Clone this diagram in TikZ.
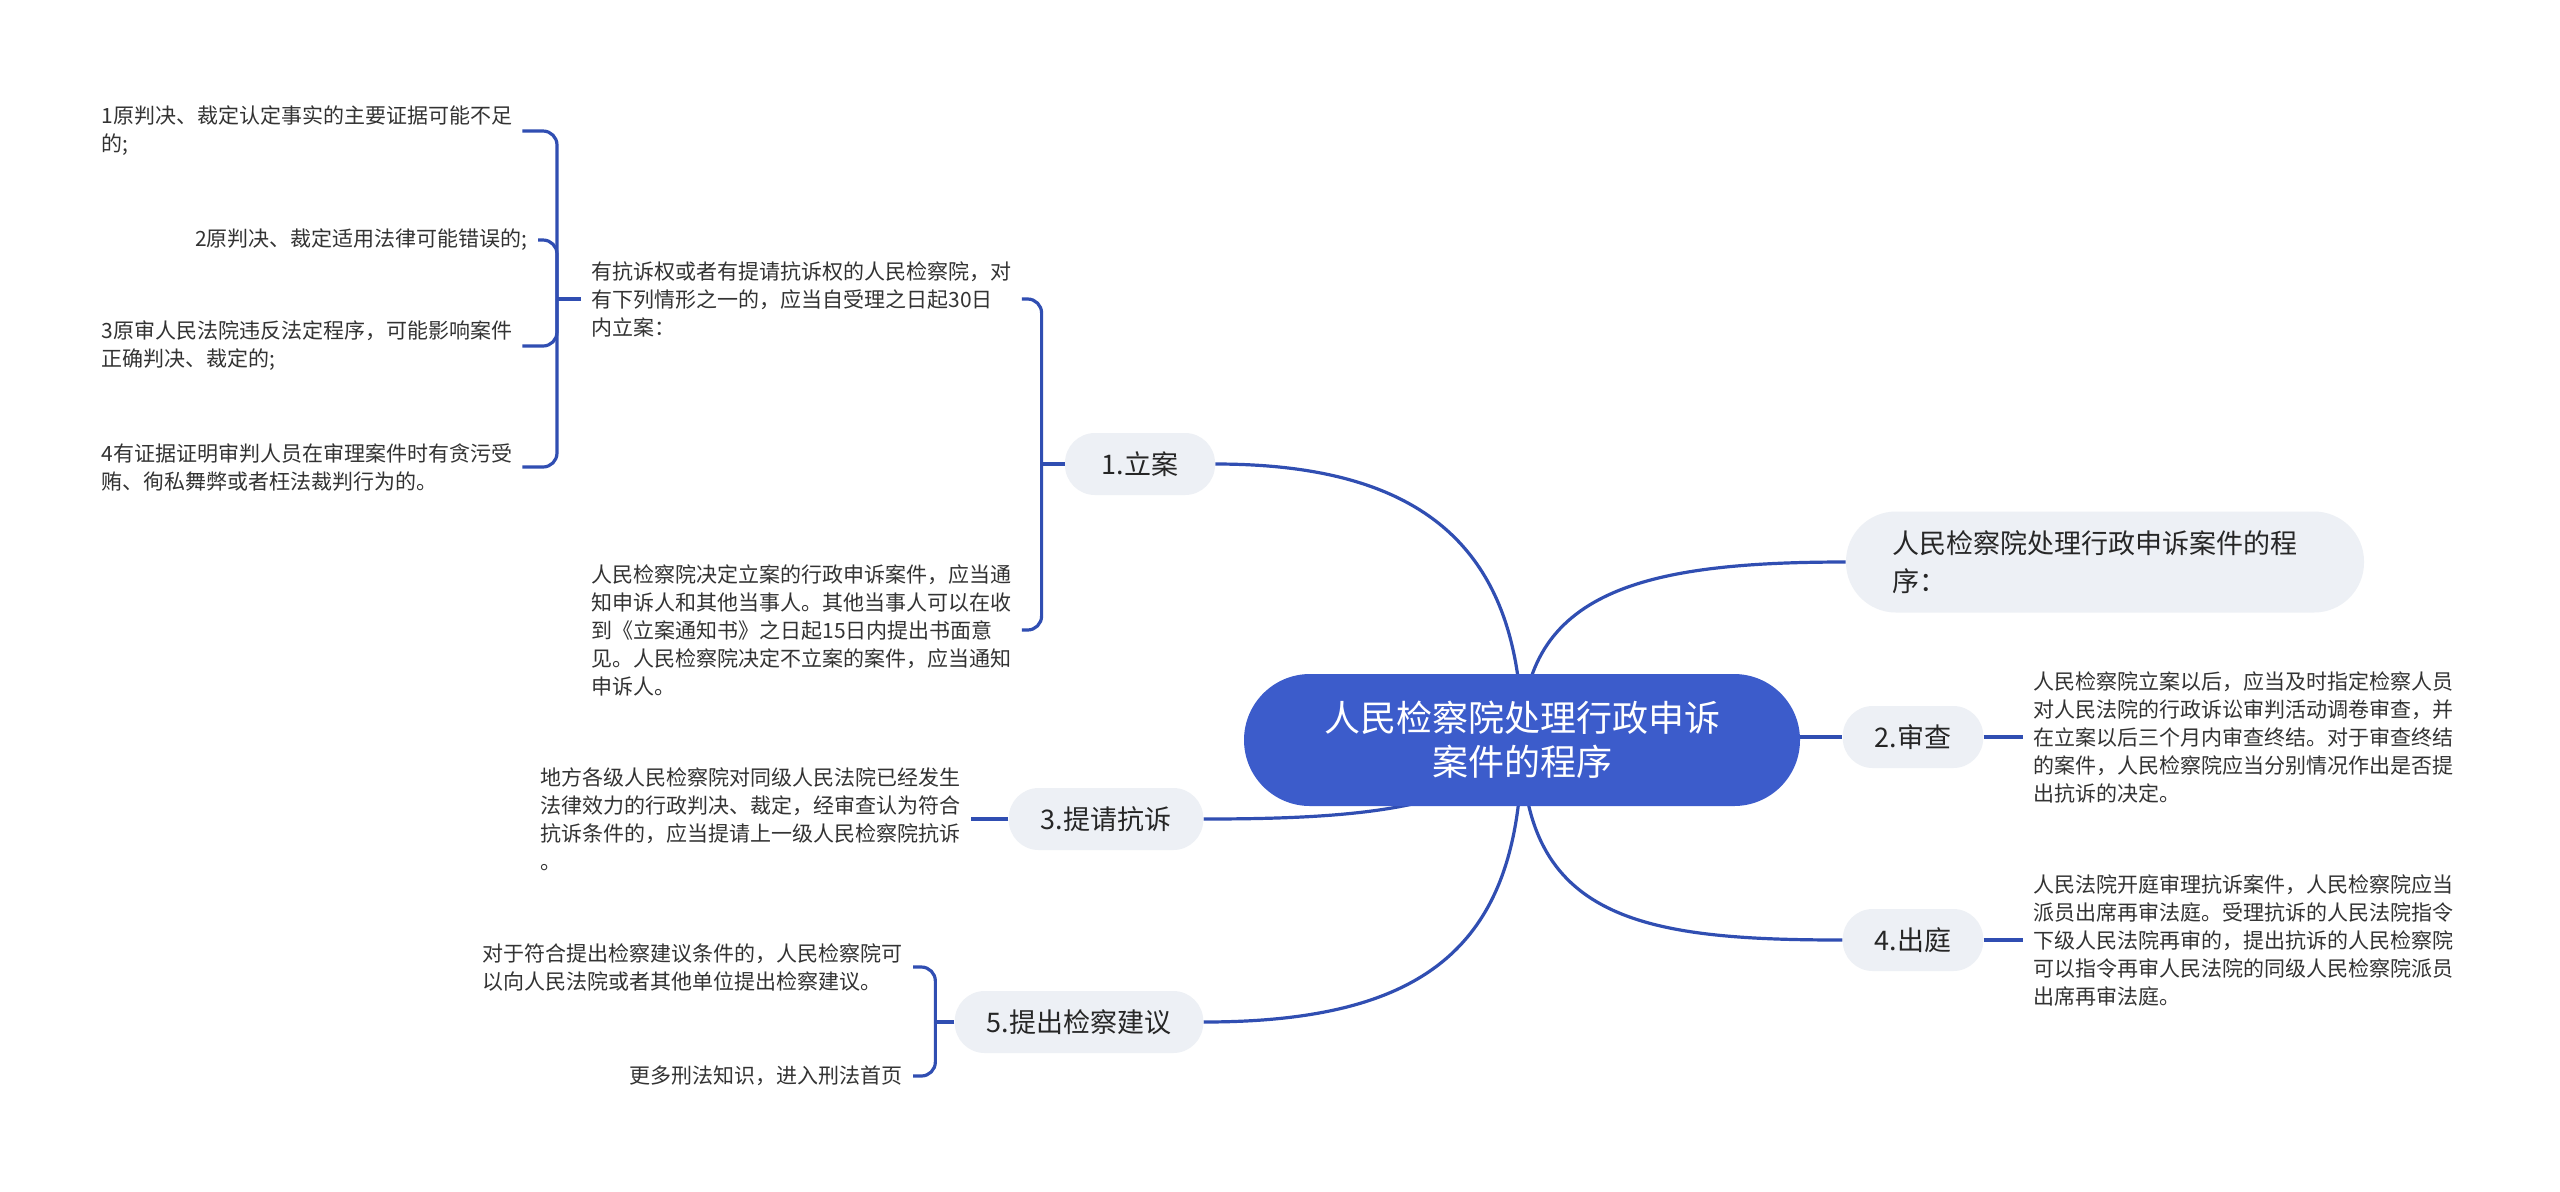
\documentclass[tikz,border=0pt]{standalone}
\usepackage{fontspec}
\setmainfont{Noto Sans CJK SC}
\usetikzlibrary{backgrounds}
\definecolor{azulraiz}{RGB}{60,92,203}
\definecolor{azullinea}{RGB}{48,78,178}
\definecolor{grisrama}{RGB}{237,240,245}
\definecolor{textohoja}{RGB}{51,51,51}
\tikzset{
  raiz/.style={fill=azulraiz, text=white, rounded corners=33pt, minimum width=278pt, minimum height=66pt, align=center, font=\fontsize{18}{22}\selectfont},
  rama/.style={fill=grisrama, text=black!85, rounded corners=15pt, minimum height=31pt, inner xsep=16pt, font=\fontsize{13.5}{19}\selectfont},
  hoja/.style={text=textohoja, align=left, inner xsep=5pt, inner ysep=2pt, font=\fontsize{10.5}{14}\selectfont},
  enlace/.style={draw=azullinea, line width=1.6pt},
  llave/.style={enlace, rounded corners=7pt}
}
\begin{document}
\begin{tikzpicture}[x=0.5pt,y=-0.5pt] %Mapa mental del procedimiento
            \useasboundingbox (0,0) rectangle (2560,1191);

            \node[raiz] (raiz) at (1522,740) {人民检察院处理行政申诉\\案件的程序};

            \node[rama, minimum width=75pt] (b1) at (1140,464) {1.立案};
            \node[rama, align=left, text width=213pt, inner xsep=23pt, minimum height=50.5pt, rounded corners=25pt] (bt) at (2105,562) {人民检察院处理行政申诉案件的程\\序：};
            \node[rama] (b2) at (1913,737) {2.审查};
            \node[rama] (b3) at (1106,819) {3.提请抗诉};
            \node[rama] (b4) at (1913,940) {4.出庭};
            \node[rama] (b5) at (1079,1022) {5.提出检察建议};

            \node[hoja, anchor=west] (t1) at (91,131) {1原判决、裁定认定事实的主要证据可能不足\\的;};
            \node[hoja, anchor=east] (t2) at (538,240) {2原判决、裁定适用法律可能错误的;};
            \node[hoja, anchor=west] (t3) at (91,346) {3原审人民法院违反法定程序，可能影响案件\\正确判决、裁定的;};
            \node[hoja, anchor=west] (t4) at (91,467) {4有证据证明审判人员在审理案件时有贪污受\\贿、徇私舞弊或者枉法裁判行为的。};
            \node[hoja, anchor=west] (p1) at (581,299) {有抗诉权或者有提请抗诉权的人民检察院，对\\有下列情形之一的，应当自受理之日起30日\\内立案：};
            \node[hoja, anchor=west] (p2) at (581,630) {人民检察院决定立案的行政申诉案件，应当通\\知申诉人和其他当事人。其他当事人可以在收\\到《立案通知书》之日起15日内提出书面意\\见。人民检察院决定不立案的案件，应当通知\\申诉人。};
            \node[hoja, anchor=east] (p3) at (971,819) {地方各级人民检察院对同级人民法院已经发生\\法律效力的行政判决、裁定，经审查认为符合\\抗诉条件的，应当提请上一级人民检察院抗诉\\。};
            \node[hoja, anchor=east] (p5a) at (913,967) {对于符合提出检察建议条件的，人民检察院可\\以向人民法院或者其他单位提出检察建议。};
            \node[hoja, anchor=east] (p5b) at (913,1076) {更多刑法知识，进入刑法首页};
            \node[hoja, anchor=west] (r2) at (2023,737) {人民检察院立案以后，应当及时指定检察人员\\对人民法院的行政诉讼审判活动调卷审查，并\\在立案以后三个月内审查终结。对于审查终结\\的案件，人民检察院应当分别情况作出是否提\\出抗诉的决定。};
            \node[hoja, anchor=west] (r4) at (2023,940) {人民法院开庭审理抗诉案件，人民检察院应当\\派员出席再审法庭。受理抗诉的人民法院指令\\下级人民法院再审的，提出抗诉的人民检察院\\可以指令再审人民法院的同级人民检察院派员\\出席再审法庭。};

            \begin{pgfonlayer}{background}
                \fill[white] (0,0) rectangle (2560,1191);
                \draw[enlace] (raiz.center) .. controls +(0,-190) and +(210,0) .. (b1.east);
                \draw[enlace] (raiz.center) .. controls +(0,-150) and +(-200,0) .. (bt.west);
                \draw[enlace] (raiz.center |- b2.west) -- (b2.west);
                \draw[enlace] (raiz.center) .. controls +(-40,70) and +(150,0) .. (b3.east);
                \draw[enlace] (raiz.center) .. controls +(0,180) and +(-200,0) .. (b4.west);
                \draw[enlace] (raiz.center) .. controls +(0,200) and +(230,0) .. (b5.east);
            \end{pgfonlayer}

            \draw[enlace] (b1.west) -- ++(-23,0) coordinate (jM);
            \draw[llave] (jM) |- (p1.east);
            \draw[llave] (jM) |- (p2.east);
            \draw[enlace] (p1.west) -- ++(-24,0) coordinate (jL);
            \draw[llave] (jL) |- (t1.east);
            \draw[llave] (jL) |- (t2.east);
            \draw[llave] (jL) |- (t3.east);
            \draw[llave] (jL) |- (t4.east);
            \draw[enlace] (b3.west) -- (p3.east);
            \draw[enlace] (b5.west) -- ++(-19,0) coordinate (j5);
            \draw[llave] (j5) |- (p5a.east);
            \draw[llave] (j5) |- (p5b.east);
            \draw[enlace] (b2.east) -- (r2.west);
            \draw[enlace] (b4.east) -- (r4.west);
        \end{tikzpicture}
\end{document}
